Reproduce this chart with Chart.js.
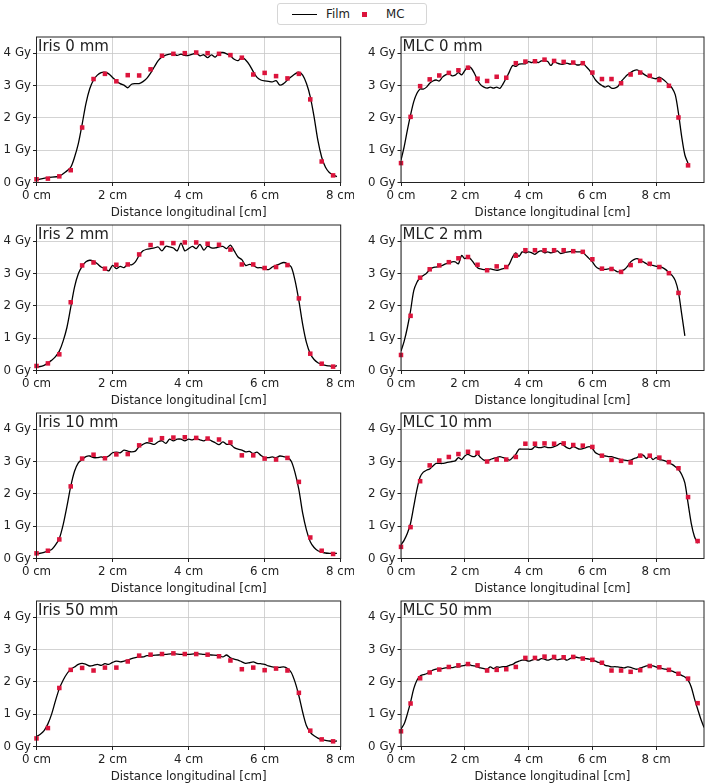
<!DOCTYPE html>
<html>
<head>
<meta charset="utf-8">
<script src="https://cdn.jsdelivr.net/npm/chart.js@4/dist/chart.umd.min.js"></script>
<style>
  body { margin: 0; background: #fff; width: 708px; height: 783px; position: relative; overflow: hidden; font-family: 'DejaVu Sans', sans-serif; }
  canvas { position: absolute; }
  #legend { position: absolute; left: 277px; top: 3px; width: 150px; height: 22px; box-sizing: border-box; border: 1px solid #d6d6d6; border-radius: 3px; background: #fff; font-size: 11.8px; color: #222; }
  #legend span { position: absolute; }
  #legend .ln { left: 14px; top: 9.5px; width: 25px; height: 1.5px; background: #000; }
  #legend .sq { left: 84px; top: 7.5px; width: 5px; height: 5px; background: #dc143c; }
  #legend .tx { top: 3px; line-height: 14px; }
</style>
</head>
<body>
<div id="legend">
  <span class="ln"></span><span class="tx" style="left:48px">Film</span>
  <span class="sq"></span><span class="tx" style="left:108px">MC</span>
</div>
<script>
// tick values
const xTicks = [0, 2, 4, 6, 8]
const yTicks = [0, 1, 2, 3, 4]

// MC sample positions (cm), shared by all panels
const mcX = [0, 0.3, 0.6, 0.9, 1.2, 1.5, 1.8, 2.1, 2.4, 2.7, 3.0, 3.3, 3.6, 3.9, 4.2, 4.5, 4.8, 5.1,
  5.4, 5.7, 6.0, 6.3, 6.6, 6.9, 7.2, 7.5, 7.8, 8.1, 8.4, 8.7, 9.0, 9.3]

// MC doses (Gy)
const mcIris0 = [0.10, 0.12, 0.19, 0.38, 1.70, 3.20, 3.36, 3.13, 3.32, 3.31, 3.50, 3.92, 3.98, 4.00, 4.02, 4.00, 3.98, 3.94, 3.86, 3.34, 3.39, 3.29, 3.22, 3.36, 2.57, 0.65, 0.22]
const mcIris2 = [0.14, 0.22, 0.50, 2.11, 3.25, 3.34, 3.15, 3.27, 3.28, 3.59, 3.88, 3.94, 3.94, 3.96, 3.96, 3.92, 3.89, 3.74, 3.28, 3.28, 3.17, 3.20, 3.26, 2.23, 0.52, 0.21, 0.12]
const mcIris10 = [0.16, 0.24, 0.59, 2.23, 3.09, 3.21, 3.10, 3.22, 3.23, 3.50, 3.67, 3.72, 3.74, 3.75, 3.73, 3.71, 3.68, 3.59, 3.19, 3.19, 3.09, 3.06, 3.11, 2.37, 0.65, 0.24, 0.14]
const mcIris50 = [0.25, 0.57, 1.81, 2.37, 2.43, 2.35, 2.44, 2.44, 2.63, 2.81, 2.84, 2.86, 2.88, 2.86, 2.86, 2.84, 2.79, 2.66, 2.39, 2.44, 2.36, 2.41, 2.35, 1.66, 0.49, 0.22, 0.16]
const mcMlc0 = [0.60, 2.03, 2.98, 3.19, 3.31, 3.39, 3.47, 3.55, 3.21, 3.14, 3.27, 3.24, 3.69, 3.74, 3.75, 3.80, 3.76, 3.73, 3.71, 3.69, 3.40, 3.20, 3.20, 3.07, 3.34, 3.40, 3.30, 3.17, 2.99, 2.01, 0.53]
const mcMlc2 = [0.48, 1.69, 2.87, 3.13, 3.25, 3.35, 3.47, 3.51, 3.27, 3.10, 3.22, 3.20, 3.55, 3.72, 3.72, 3.72, 3.72, 3.72, 3.69, 3.67, 3.44, 3.15, 3.14, 3.05, 3.26, 3.39, 3.30, 3.20, 3.01, 2.40]
const mcMlc10 = [0.36, 0.97, 2.39, 2.88, 3.03, 3.14, 3.23, 3.30, 3.27, 3.00, 3.06, 3.06, 3.14, 3.55, 3.55, 3.56, 3.55, 3.56, 3.51, 3.49, 3.45, 3.18, 3.05, 3.02, 2.97, 3.18, 3.18, 3.12, 2.98, 2.79, 1.90, 0.54]
const mcMlc50 = [0.47, 1.33, 2.11, 2.29, 2.38, 2.46, 2.51, 2.55, 2.51, 2.35, 2.37, 2.39, 2.46, 2.74, 2.74, 2.78, 2.77, 2.76, 2.77, 2.72, 2.68, 2.59, 2.35, 2.35, 2.31, 2.36, 2.49, 2.45, 2.37, 2.25, 2.10, 1.34]

// film profiles [cm, Gy]
const filmIris0 = [[0,0.08],[0.3,0.15],[0.6,0.2],[0.8,0.36],[0.9,0.47],[1.0,0.78],[1.1,1.2],[1.2,1.8],[1.3,2.44],[1.4,2.9],[1.5,3.17],[1.6,3.32],[1.7,3.4],[1.8,3.41],[1.9,3.36],[2.0,3.25],[2.1,3.14],[2.2,3.06],[2.3,3.01],[2.4,2.93],[2.5,3.04],[2.6,3.06],[2.7,3.06],[2.8,3.12],[2.9,3.22],[3.0,3.38],[3.1,3.58],[3.2,3.77],[3.3,3.88],[3.4,3.94],[3.5,3.97],[3.6,3.98],[3.7,3.93],[3.8,3.97],[3.9,3.93],[4.0,3.93],[4.1,3.97],[4.2,4.0],[4.3,3.92],[4.4,3.95],[4.5,3.86],[4.6,3.95],[4.7,3.88],[4.8,4.0],[4.9,4.02],[5.0,3.98],[5.1,3.92],[5.2,3.81],[5.3,3.77],[5.4,3.88],[5.5,3.79],[5.6,3.64],[5.7,3.43],[5.8,3.25],[5.9,3.17],[6.0,3.14],[6.1,3.13],[6.2,3.11],[6.3,3.15],[6.4,3.01],[6.5,3.06],[6.6,3.17],[6.7,3.27],[6.8,3.36],[6.9,3.41],[7.0,3.32],[7.1,3.06],[7.2,2.65],[7.3,2.03],[7.4,1.3],[7.5,0.78],[7.6,0.47],[7.7,0.31],[7.8,0.24],[7.9,0.18]]
const filmIris2 = [[0,0.10],[0.2,0.16],[0.4,0.32],[0.5,0.43],[0.6,0.6],[0.7,0.91],[0.8,1.33],[0.9,1.95],[1.0,2.58],[1.1,2.99],[1.2,3.22],[1.3,3.36],[1.4,3.41],[1.5,3.38],[1.6,3.3],[1.7,3.2],[1.8,3.15],[1.9,3.08],[2.0,3.25],[2.1,3.15],[2.2,3.22],[2.3,3.18],[2.4,3.28],[2.5,3.27],[2.6,3.36],[2.7,3.56],[2.8,3.7],[2.9,3.75],[3.0,3.77],[3.1,3.79],[3.2,3.82],[3.3,3.7],[3.4,3.84],[3.5,3.82],[3.6,3.79],[3.7,3.7],[3.8,3.94],[3.9,3.7],[4.0,3.77],[4.1,3.84],[4.2,3.77],[4.3,3.9],[4.4,3.72],[4.5,3.85],[4.6,3.79],[4.7,3.79],[4.8,3.82],[4.9,3.84],[5.0,3.77],[5.1,3.88],[5.2,3.7],[5.3,3.51],[5.4,3.43],[5.5,3.25],[5.6,3.28],[5.7,3.25],[5.8,3.18],[5.9,3.18],[6.0,3.15],[6.1,3.12],[6.2,3.2],[6.3,3.25],[6.4,3.3],[6.5,3.34],[6.6,3.3],[6.7,3.2],[6.8,2.78],[6.9,2.16],[7.0,1.43],[7.1,0.86],[7.2,0.52],[7.3,0.34],[7.4,0.24],[7.5,0.19],[7.6,0.16],[7.7,0.14],[7.8,0.12],[7.9,0.15]]
const filmIris10 = [[0,0.14],[0.2,0.19],[0.4,0.28],[0.5,0.42],[0.6,0.62],[0.7,1.04],[0.8,1.61],[0.9,2.23],[1.0,2.7],[1.1,2.96],[1.2,3.06],[1.3,3.15],[1.4,3.17],[1.5,3.12],[1.6,3.12],[1.7,3.14],[1.8,3.12],[1.9,3.17],[2.0,3.27],[2.1,3.29],[2.2,3.27],[2.3,3.35],[2.4,3.32],[2.5,3.3],[2.6,3.32],[2.7,3.46],[2.8,3.53],[2.9,3.58],[3.0,3.56],[3.1,3.53],[3.2,3.61],[3.3,3.64],[3.4,3.56],[3.5,3.69],[3.6,3.64],[3.7,3.69],[3.8,3.69],[3.9,3.64],[4.0,3.69],[4.1,3.67],[4.2,3.71],[4.3,3.67],[4.4,3.64],[4.5,3.69],[4.6,3.64],[4.7,3.58],[4.8,3.52],[4.9,3.61],[5.0,3.53],[5.1,3.53],[5.2,3.43],[5.3,3.38],[5.4,3.35],[5.5,3.3],[5.6,3.31],[5.7,3.25],[5.8,3.29],[5.9,3.19],[6.0,3.12],[6.1,3.12],[6.2,3.14],[6.3,3.12],[6.4,3.17],[6.5,3.15],[6.6,3.12],[6.7,3.01],[6.8,2.65],[6.9,2.13],[7.0,1.4],[7.1,0.88],[7.2,0.52],[7.3,0.34],[7.4,0.24],[7.5,0.2],[7.6,0.17],[7.7,0.16],[7.8,0.15],[7.9,0.16]]
const filmIris50 = [[0,0.31],[0.1,0.38],[0.2,0.49],[0.3,0.7],[0.4,1.01],[0.5,1.42],[0.6,1.79],[0.7,2.05],[0.8,2.25],[0.9,2.39],[1.0,2.46],[1.1,2.54],[1.2,2.57],[1.3,2.54],[1.4,2.49],[1.5,2.51],[1.6,2.54],[1.7,2.51],[1.8,2.56],[1.9,2.54],[2.0,2.6],[2.1,2.64],[2.2,2.62],[2.3,2.64],[2.4,2.67],[2.5,2.72],[2.6,2.75],[2.7,2.77],[2.8,2.77],[2.9,2.81],[3.0,2.81],[3.2,2.83],[3.4,2.85],[3.6,2.87],[3.8,2.85],[4.0,2.85],[4.2,2.87],[4.4,2.85],[4.6,2.83],[4.8,2.81],[4.9,2.77],[5.0,2.83],[5.1,2.74],[5.2,2.7],[5.3,2.67],[5.4,2.62],[5.5,2.57],[5.6,2.59],[5.7,2.62],[5.8,2.57],[5.9,2.56],[6.0,2.54],[6.1,2.49],[6.2,2.46],[6.3,2.45],[6.4,2.45],[6.5,2.46],[6.6,2.41],[6.7,2.29],[6.8,1.99],[6.9,1.57],[7.0,1.06],[7.1,0.64],[7.2,0.44],[7.3,0.33],[7.4,0.26],[7.5,0.21],[7.6,0.19],[7.7,0.17],[7.8,0.16],[7.9,0.17]]
const filmMlc0 = [[0,0.69],[0.1,1.11],[0.2,1.62],[0.3,2.09],[0.4,2.5],[0.5,2.76],[0.6,2.89],[0.7,2.89],[0.8,2.95],[0.9,3.07],[1.0,3.14],[1.1,3.17],[1.2,3.14],[1.3,3.26],[1.4,3.33],[1.5,3.36],[1.6,3.3],[1.7,3.32],[1.8,3.4],[1.9,3.33],[2.0,3.46],[2.1,3.59],[2.2,3.54],[2.3,3.38],[2.4,3.17],[2.5,3.02],[2.6,2.95],[2.7,2.92],[2.8,2.95],[2.9,2.92],[3.0,2.95],[3.1,2.91],[3.2,3.05],[3.3,3.23],[3.4,3.43],[3.5,3.62],[3.6,3.59],[3.7,3.66],[3.8,3.67],[3.9,3.67],[4.0,3.74],[4.1,3.71],[4.2,3.76],[4.3,3.71],[4.4,3.76],[4.5,3.76],[4.6,3.74],[4.7,3.62],[4.8,3.74],[4.9,3.69],[5.0,3.66],[5.1,3.66],[5.2,3.69],[5.3,3.66],[5.4,3.69],[5.5,3.64],[5.6,3.64],[5.7,3.69],[5.8,3.59],[5.9,3.48],[6.0,3.33],[6.1,3.17],[6.2,3.07],[6.3,3.0],[6.4,2.95],[6.5,2.99],[6.6,2.92],[6.7,2.92],[6.8,2.97],[6.9,3.12],[7.0,3.23],[7.1,3.33],[7.2,3.4],[7.3,3.46],[7.4,3.48],[7.5,3.43],[7.6,3.36],[7.7,3.3],[7.8,3.26],[7.9,3.23],[8.0,3.21],[8.1,3.26],[8.2,3.2],[8.3,3.12],[8.4,3.02],[8.5,2.92],[8.6,2.71],[8.7,2.14],[8.8,1.42],[8.9,0.85],[9.0,0.59]]
const filmMlc2 = [[0,0.6],[0.1,0.91],[0.2,1.33],[0.3,1.85],[0.4,2.47],[0.5,2.73],[0.6,2.87],[0.7,2.94],[0.8,3.01],[0.9,3.12],[1.0,3.18],[1.1,3.2],[1.2,3.22],[1.3,3.25],[1.4,3.3],[1.5,3.32],[1.6,3.36],[1.7,3.36],[1.8,3.3],[1.9,3.56],[2.0,3.46],[2.1,3.51],[2.2,3.43],[2.3,3.3],[2.4,3.18],[2.5,3.14],[2.6,3.12],[2.7,3.12],[2.8,3.14],[2.9,3.12],[3.0,3.1],[3.1,3.12],[3.2,3.15],[3.3,3.18],[3.4,3.3],[3.5,3.51],[3.6,3.64],[3.7,3.53],[3.8,3.67],[3.9,3.64],[4.0,3.67],[4.1,3.64],[4.2,3.59],[4.3,3.67],[4.4,3.7],[4.5,3.64],[4.6,3.67],[4.7,3.64],[4.8,3.66],[4.9,3.7],[5.0,3.62],[5.1,3.64],[5.2,3.66],[5.3,3.68],[5.4,3.7],[5.5,3.67],[5.6,3.67],[5.7,3.66],[5.8,3.56],[5.9,3.46],[6.0,3.36],[6.1,3.22],[6.2,3.15],[6.3,3.14],[6.4,3.13],[6.5,3.14],[6.6,3.15],[6.7,3.1],[6.8,3.05],[6.9,3.08],[7.0,3.12],[7.1,3.22],[7.2,3.36],[7.3,3.43],[7.4,3.46],[7.5,3.41],[7.6,3.36],[7.7,3.3],[7.8,3.25],[7.9,3.25],[8.0,3.22],[8.1,3.22],[8.2,3.18],[8.3,3.12],[8.4,3.03],[8.5,2.94],[8.6,2.78],[8.7,2.42],[8.8,1.75],[8.9,1.07]]
const filmMlc10 = [[0,0.42],[0.1,0.57],[0.2,0.78],[0.3,1.09],[0.4,1.61],[0.5,2.13],[0.6,2.52],[0.7,2.67],[0.8,2.73],[0.9,2.77],[1.0,2.86],[1.1,2.94],[1.2,2.94],[1.3,2.94],[1.4,2.96],[1.5,2.98],[1.6,3.0],[1.7,3.02],[1.8,3.12],[1.9,3.06],[2.0,3.17],[2.1,3.22],[2.2,3.17],[2.3,3.15],[2.4,3.22],[2.5,3.12],[2.6,3.04],[2.7,3.03],[2.8,3.06],[2.9,3.1],[3.0,3.12],[3.1,3.15],[3.2,3.12],[3.3,3.09],[3.4,3.04],[3.5,3.12],[3.6,3.22],[3.7,3.38],[3.8,3.38],[3.9,3.38],[4.0,3.38],[4.1,3.38],[4.2,3.46],[4.3,3.43],[4.4,3.43],[4.5,3.46],[4.6,3.43],[4.7,3.43],[4.8,3.46],[4.9,3.5],[5.0,3.56],[5.1,3.5],[5.2,3.43],[5.3,3.4],[5.4,3.46],[5.5,3.42],[5.6,3.38],[5.7,3.4],[5.8,3.43],[5.9,3.46],[6.0,3.4],[6.1,3.27],[6.2,3.22],[6.3,3.19],[6.4,3.17],[6.5,3.15],[6.6,3.15],[6.7,3.12],[6.8,3.09],[6.9,3.06],[7.0,3.04],[7.1,3.03],[7.2,3.04],[7.3,3.09],[7.4,3.12],[7.5,3.22],[7.6,3.19],[7.7,3.09],[7.8,3.17],[7.9,3.06],[8.0,3.12],[8.1,3.06],[8.2,3.04],[8.3,3.01],[8.4,2.96],[8.5,2.91],[8.6,2.84],[8.7,2.75],[8.8,2.6],[8.9,2.34],[9.0,1.71],[9.1,1.09],[9.2,0.68],[9.3,0.47]]
const filmMlc50 = [[0,0.54],[0.1,0.7],[0.2,1.01],[0.3,1.37],[0.4,1.79],[0.5,2.05],[0.6,2.18],[0.7,2.22],[0.8,2.25],[0.9,2.31],[1.0,2.36],[1.1,2.39],[1.2,2.41],[1.3,2.41],[1.4,2.43],[1.5,2.44],[1.6,2.44],[1.7,2.46],[1.8,2.46],[1.9,2.49],[2.0,2.51],[2.1,2.54],[2.2,2.51],[2.3,2.49],[2.4,2.46],[2.5,2.43],[2.6,2.41],[2.7,2.39],[2.8,2.46],[2.9,2.41],[3.0,2.46],[3.1,2.45],[3.2,2.47],[3.3,2.47],[3.4,2.51],[3.5,2.54],[3.6,2.6],[3.7,2.64],[3.8,2.67],[3.9,2.67],[4.0,2.64],[4.1,2.67],[4.2,2.7],[4.3,2.67],[4.4,2.72],[4.5,2.7],[4.6,2.67],[4.7,2.7],[4.8,2.72],[4.9,2.68],[5.0,2.7],[5.1,2.72],[5.2,2.67],[5.3,2.72],[5.4,2.76],[5.5,2.76],[5.6,2.74],[5.7,2.74],[5.8,2.72],[5.9,2.7],[6.0,2.67],[6.1,2.64],[6.2,2.6],[6.3,2.57],[6.4,2.51],[6.5,2.49],[6.6,2.46],[6.7,2.47],[6.8,2.46],[6.9,2.45],[7.0,2.43],[7.1,2.46],[7.2,2.45],[7.3,2.41],[7.4,2.39],[7.5,2.43],[7.6,2.46],[7.7,2.49],[7.8,2.51],[7.9,2.49],[8.0,2.46],[8.1,2.43],[8.2,2.41],[8.3,2.39],[8.4,2.36],[8.5,2.33],[8.6,2.29],[8.7,2.25],[8.8,2.2],[8.9,2.15],[9.0,2.05],[9.1,1.84],[9.2,1.48],[9.3,1.16],[9.4,0.85],[9.5,0.59]]

const panels = [
  { label: 'Iris 0 mm', film: filmIris0, mc: mcIris0, xMax: 8, col: 0, row: 0 },
  { label: 'MLC 0 mm', film: filmMlc0, mc: mcMlc0, xMax: 9.5, col: 1, row: 0 },
  { label: 'Iris 2 mm', film: filmIris2, mc: mcIris2, xMax: 8, col: 0, row: 1 },
  { label: 'MLC 2 mm', film: filmMlc2, mc: mcMlc2, xMax: 9.5, col: 1, row: 1 },
  { label: 'Iris 10 mm', film: filmIris10, mc: mcIris10, xMax: 8, col: 0, row: 2 },
  { label: 'MLC 10 mm', film: filmMlc10, mc: mcMlc10, xMax: 9.5, col: 1, row: 2 },
  { label: 'Iris 50 mm', film: filmIris50, mc: mcIris50, xMax: 8, col: 0, row: 3 },
  { label: 'MLC 50 mm', film: filmMlc50, mc: mcMlc50, xMax: 9.5, col: 1, row: 3 },
]

// layout (px)
const colX = [0, 354]
const plotLeft = [36.5, 401]
const plotRight = [340.7, 706.5]
const rowTop = [37, 225, 413, 601]
const plotH = 145.5
const padTop = 8
const xAxisH = 40.5
const TXT = '#222'
const FONT = { family: 'DejaVu Sans', size: 11.8 }

const frame = {
  id: 'frame',
  afterDatasetsDraw(chart, args, opts) {
    const { ctx, chartArea: a } = chart
    ctx.save()
    ctx.strokeStyle = '#222'
    ctx.lineWidth = 1
    ctx.strokeRect(a.left, a.top, a.right - a.left, a.bottom - a.top)
    ctx.font = '15px "DejaVu Sans"'
    ctx.fillStyle = '#222'
    ctx.textBaseline = 'alphabetic'
    ctx.fillText(opts.label, a.left + 1.5, a.top + 14)
    ctx.restore()
  }
}

function renderPanel(p) {
  const canvas = document.createElement('canvas')
  const w = 354
  const h = Math.ceil(padTop + plotH + xAxisH)
  canvas.width = w
  canvas.height = h
  canvas.style.left = colX[p.col] + 'px'
  canvas.style.top = (rowTop[p.row] - padTop) + 'px'
  document.body.appendChild(canvas)

  const yW = plotLeft[p.col] - colX[p.col]
  const padRight = colX[p.col] + w - plotRight[p.col]

  const gridOpts = { color: '#c8c8c8', lineWidth: 0.8, tickLength: 3.5, tickColor: '#222', tickWidth: 1 }

  new Chart(canvas, {
    type: 'scatter',
    data: {
      datasets: [
        {
          label: 'MC',
          data: p.mc.map((v, i) => ({ x: mcX[i], y: v })),
          pointStyle: 'rect',
          pointRadius: 3.2,
          backgroundColor: '#dc143c',
          borderWidth: 0,
          showLine: false,
          clip: false
        },
        {
          label: 'Film',
          data: p.film.map(d => ({ x: d[0], y: d[1] })),
          showLine: true,
          borderColor: '#000',
          borderWidth: 1.3,
          pointRadius: 0,
          tension: 0.3,
          fill: false
        }
      ]
    },
    options: {
      responsive: false,
      animation: false,
      events: [],
      layout: { padding: { top: padTop, right: padRight, bottom: 0, left: 0 } },
      plugins: {
        legend: { display: false },
        tooltip: { enabled: false },
        frame: { label: p.label }
      },
      scales: {
        x: {
          type: 'linear',
          min: 0,
          max: p.xMax,
          afterBuildTicks: s => { s.ticks = xTicks.map(v => ({ value: v })) },
          afterFit: s => { s.height = xAxisH; s.paddingLeft = 0; s.paddingRight = 0 },
          ticks: { callback: v => v + ' cm', font: FONT, color: TXT, padding: 3, maxRotation: 0, autoSkip: false },
          grid: gridOpts,
          border: { display: false },
          title: { display: true, text: 'Distance longitudinal [cm]', font: FONT, color: TXT, padding: { top: 0, bottom: 3.4 } }
        },
        y: {
          min: 0,
          max: 4.5,
          afterBuildTicks: s => { s.ticks = yTicks.map(v => ({ value: v })) },
          afterFit: s => { s.width = yW; s.paddingTop = 0; s.paddingBottom = 0 },
          ticks: { callback: v => v + ' Gy', font: FONT, color: TXT, padding: 2 },
          grid: gridOpts,
          border: { display: false }
        }
      }
    },
    plugins: [frame]
  })
}

panels.forEach(renderPanel)
</script>
</body>
</html>
